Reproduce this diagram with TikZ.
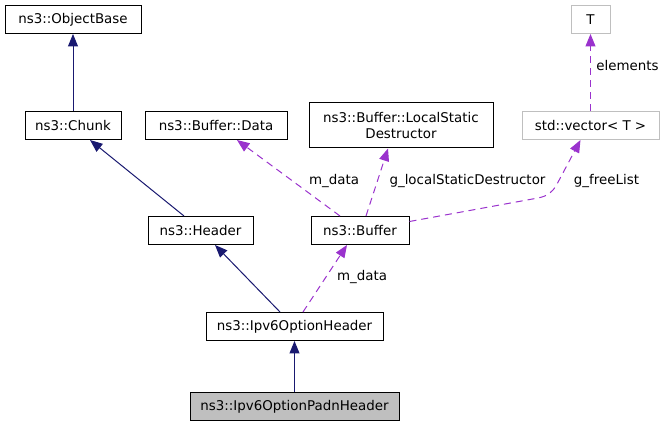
\documentclass[tikz,border=0pt]{standalone}
\usepackage{fontspec}
\setmainfont{DejaVu Sans}
\usetikzlibrary{arrows.meta}
\definecolor{navy}{HTML}{191970}
\definecolor{orch}{HTML}{9A32CD}
\definecolor{lgray}{HTML}{BFBFBF}
\begin{document}
\begin{tikzpicture}[x=1pt,y=-1pt,
  every node/.style={font=\fontsize{13.4}{15.5}\selectfont},
  cls/.style={draw=black,line width=1pt,rectangle,inner sep=0pt,minimum height=28pt,align=center},
  ext/.style={cls,draw=lgray},
  inh/.style={draw=navy,line width=1pt,-{Triangle[length=12.5pt,width=10pt]}},
  use/.style={draw=orch,line width=1pt,dash pattern=on 7pt off 5pt,-{Triangle[length=12.5pt,width=10pt]}},
  lbl/.style={inner sep=0pt}]
\useasboundingbox (0,0) rectangle (665,427);
\node[cls,minimum width=136pt] (ob) at (73,19.5) {ns3::ObjectBase};
\node[cls,minimum width=96pt] (chunk) at (73,125.5) {ns3::Chunk};
\node[cls,minimum width=142pt] (data) at (216,125.5) {ns3::Buffer::Data};
\node[cls,minimum width=184pt,minimum height=45pt] (lsd) at (401,125.5) {ns3::Buffer::LocalStatic\\Destructor};
\node[ext,minimum width=39pt] (T) at (590.5,19.5) {T};
\node[ext,minimum width=137pt] (vec) at (590.5,125.5) {std::vector< T >};
\node[cls,minimum width=105pt] (header) at (200.5,230.5) {ns3::Header};
\node[cls,minimum width=98pt] (buffer) at (360,230.5) {ns3::Buffer};
\node[cls,minimum width=177pt] (ipv6) at (294.5,326.5) {ns3::Ipv6OptionHeader};
\node[cls,fill=lgray,minimum width=209pt] (padn) at (294.5,406.5) {ns3::Ipv6OptionPadnHeader};
% inheritance
\draw[inh] (chunk.north) -- (ob.south);
\draw[inh] ([xshift=-16.5pt]header.north) -- ([xshift=17pt]chunk.south);
\draw[inh] ([xshift=-14.5pt]ipv6.north) -- ([xshift=14.5pt]header.south);
\draw[inh] (padn.north) -- (ipv6.south);
% usage
\draw[use] ([xshift=8.5pt]ipv6.north) -- ([xshift=-13pt]buffer.south);
\draw[use] ([xshift=-20pt]buffer.north) -- ([xshift=21pt]data.south);
\draw[use] ([xshift=6pt]buffer.north) -- ([xshift=-13pt]lsd.south);
\draw[use] ([yshift=9pt]buffer.east) -- (538,198) .. controls (548,196) and (552,192) .. (556,186) -- ([xshift=-10pt]vec.south);
\draw[use] (vec.north) -- (T.south);
% labels
\node[lbl] (l1) at (334,181) {m\_data};
\node[lbl] (l2) at (467.5,181) {g\_localStaticDestructor};
\node[lbl] (l3) at (606.5,181) {g\_freeList};
\node[lbl] (l4) at (627.5,66) {elements};
\node[lbl] (l5) at (362,277) {m\_data};
\end{tikzpicture}
\end{document}
